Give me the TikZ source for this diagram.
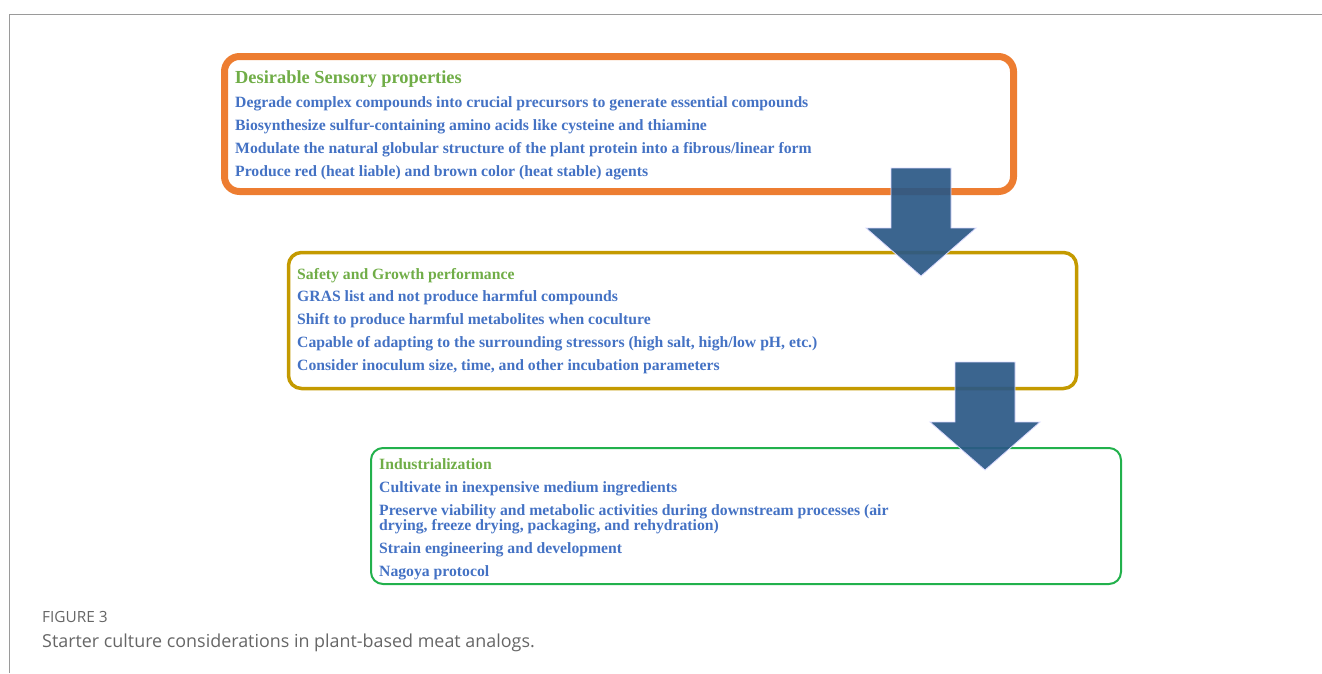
\documentclass[tikz,border=0pt]{standalone}
\usepackage{fontspec}
\setmainfont{Liberation Serif}
\newfontfamily\capfont{Open Sans}
\usetikzlibrary{positioning}
\definecolor{framec}{HTML}{9A9A9A}
\definecolor{sensoryc}{HTML}{ED7D31}
\definecolor{safetyc}{HTML}{C49A00}
\definecolor{industryc}{HTML}{22B14C}
\definecolor{headc}{HTML}{70AD47}
\definecolor{itemc}{HTML}{4472C4}
\definecolor{arrowc}{HTML}{2A5886}
\definecolor{capc}{HTML}{666666}
\tikzset{
  stage/.style={draw, rounded corners=15pt, inner sep=0pt, outer sep=0pt, anchor=north west},
  head/.style={anchor=base west, inner sep=0pt, text=headc, font=\bfseries},
  % base of a multi-line node sits on its last line
  items/.style={anchor=base west, inner sep=0pt, text=itemc, font=\bfseries, align=left},
  flowarrow/.pic={
    \fill[arrowc, fill opacity=0.92, draw=blue!15, line width=0.8pt]
      (-30,0) -- (30,0) -- (30,60) -- (55,60) -- (0,108) -- (-55,60) -- (-30,60) -- cycle;
  },
}

\begin{document}
\begin{tikzpicture}[x=1pt, y=-1pt]
\useasboundingbox (0,0) rectangle (1322,673);
% outer frame
\draw[framec, line width=1.3pt] (9.5,673) -- (9.5,14.5) -- (1322,14.5);

% the three stages
\node[stage, draw=sensoryc, line width=7pt, minimum width=789pt, minimum height=135pt] (sensory) at (224.5,56.5) {};
\node[stage, draw=safetyc, line width=3.5pt, minimum width=788pt, minimum height=136pt, rounded corners=13pt] (safety) at (288.5,252.5) {};
\node[stage, draw=industryc, line width=2pt, minimum width=750pt, minimum height=136pt, rounded corners=12pt] (industry) at (371,448) {};

\node[head, font=\bfseries\fontsize{18.4}{20}\selectfont] (sensoryhead) at (235,83) {Desirable Sensory properties};
\node[items, font=\bfseries\fontsize{15.7}{23}\selectfont] (sensoryitems) at ([yshift=-93pt]sensoryhead.base west) {%
Degrade complex compounds into crucial precursors to generate essential compounds\\
Biosynthesize sulfur-containing amino acids like cysteine and thiamine\\
Modulate the natural globular structure of the plant protein into a fibrous/linear form\\
Produce red (heat liable) and brown color (heat stable) agents};

\node[head, font=\bfseries\fontsize{15.7}{17}\selectfont] (safetyhead) at (297,279) {Safety and Growth performance};
\node[items, font=\bfseries\fontsize{15.7}{22.7}\selectfont] (safetyitems) at ([yshift=-91pt]safetyhead.base west) {%
GRAS list and not produce harmful compounds\\
Shift to produce harmful metabolites when coculture\\
Capable of adapting to the surrounding stressors (high salt, high/low pH, etc.)\\
Consider inoculum size, time, and other incubation parameters};

\node[head, font=\bfseries\fontsize{15.7}{17}\selectfont] (industryhead) at (379,469) {Industrialization};
\node[items, font=\bfseries\fontsize{15.7}{15.5}\selectfont] (industryitems) at ([yshift=-107.5pt]industryhead.base west) {%
Cultivate in inexpensive medium ingredients\\[7.5pt]
Preserve viability and metabolic activities during downstream processes (air\\
drying, freeze drying, packaging, and rehydration)\\[7.5pt]
Strain engineering and development\\[7.5pt]
Nagoya protocol};

% block arrows between stages
\pic at (921,168) {flowarrow};
\pic at (985,362) {flowarrow};

% caption
\node[anchor=base west, inner sep=0pt, text=capc, font=\capfont\fontsize{15.4}{17}\selectfont] (figlabel) at (42,622) {FIGURE 3};
\node[anchor=base west, inner sep=0pt, text=capc, font=\capfont\fontsize{17.9}{20}\selectfont] (figcaption) at (42,647) {Starter culture considerations in plant-based meat analogs.};
\end{tikzpicture}
\end{document}
